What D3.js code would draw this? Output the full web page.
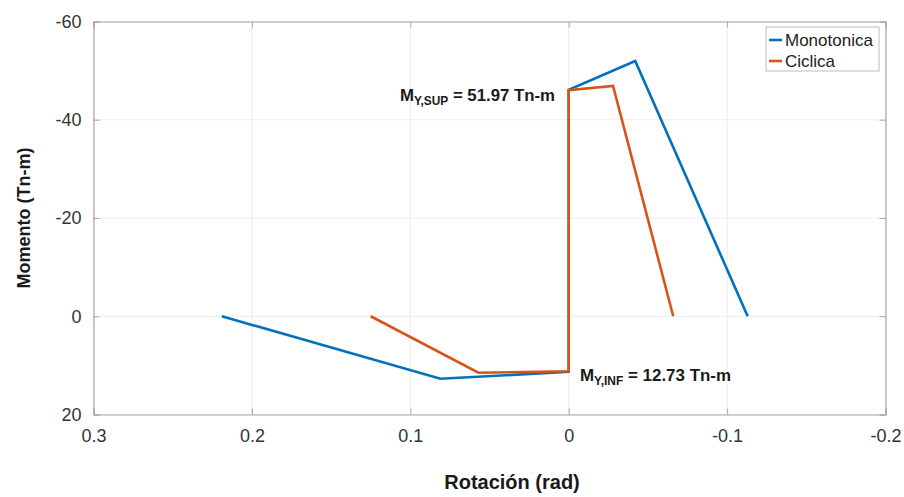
<!DOCTYPE html>
<html><head><meta charset="utf-8">
<script src="https://cdn.jsdelivr.net/npm/d3@7"></script>
<style>
body{margin:0;background:#fff;}
text{font-family:"Liberation Sans",Arial,sans-serif;}
</style></head>
<body><svg id="c" width="904" height="497"></svg>
<script>
const monoX = [0.219, 0.081, 0.0, 0.0, -0.042, -0.113];
const monoY = [0, 12.73, 11.3, -46.1, -51.97, 0];
const cicX = [0.125, 0.057, 0.0, 0.0, -0.028, -0.066];
const cicY = [0, 11.5, 11.2, -46.0, -46.9, 0];
const xTicks = [0.3, 0.2, 0.1, 0, -0.1, -0.2];
const xTickLabels = ["0.3", "0.2", "0.1", "0", "-0.1", "-0.2"];
const yTicks = [-60, -40, -20, 0, 20];
const yTickLabels = ["-60", "-40", "-20", "0", "20"];
const seriesNames = ["Monotonica", "Ciclica"];
const colors = ["#0072BD", "#D95319"];

const svg = d3.select("#c");
const x = d3.scaleLinear().domain([0.3, -0.2]).range([93.5, 885.5]);
const y = d3.scaleLinear().domain([-60, 20]).range([21.5, 414.5]);

// grid
svg.append("g").selectAll("line").data(xTicks).join("line")
  .attr("x1", d => x(d)).attr("x2", d => x(d)).attr("y1", y(-60)).attr("y2", y(20))
  .attr("stroke", "#ececec").attr("stroke-width", 1);
svg.append("g").selectAll("line").data(yTicks).join("line")
  .attr("y1", d => y(d)).attr("y2", d => y(d)).attr("x1", x(0.3)).attr("x2", x(-0.2))
  .attr("stroke", "#ececec").attr("stroke-width", 1);

// axes
const axisCol = "#a8a8a8";
const xa = svg.append("g").attr("transform", `translate(0,${y(20)})`)
  .call(d3.axisBottom(x).tickValues(xTicks).tickSize(-6).tickPadding(15)
    .tickFormat((d, i) => xTickLabels[i]));
const xt = svg.append("g").attr("transform", `translate(0,${y(-60)})`)
  .call(d3.axisTop(x).tickValues(xTicks).tickSize(-6).tickFormat(""));
const ya = svg.append("g").attr("transform", `translate(${x(0.3)},0)`)
  .call(d3.axisLeft(y).tickValues(yTicks).tickSize(-6).tickPadding(12)
    .tickFormat((d, i) => yTickLabels[i]));
const yr = svg.append("g").attr("transform", `translate(${x(-0.2)},0)`)
  .call(d3.axisRight(y).tickValues(yTicks).tickSize(-6).tickFormat(""));
[xa, xt, ya, yr].forEach(g => {
  g.select(".domain").attr("stroke", axisCol).attr("stroke-width", 1.2);
  g.selectAll(".tick line").attr("stroke", axisCol);
  g.selectAll(".tick text").attr("fill", "#333").attr("font-size", 18)
    .attr("font-family", "'Liberation Sans',Arial,sans-serif");
});

// lines
const line = d3.line().x(d => x(d[0])).y(d => y(d[1]));
const monoData = monoX.map((v, i) => [v, monoY[i]]);
const cicData = cicX.map((v, i) => [v, cicY[i]]);
[monoData, cicData].forEach((dat, i) => {
  svg.append("path").datum(dat).attr("d", line)
    .attr("fill", "none").attr("stroke", colors[i]).attr("stroke-width", 2.6)
    .attr("stroke-linejoin", "miter");
});

// annotations
function annot(tx, ty, sub, rest, len) {
  const t = svg.append("text").attr("x", tx).attr("y", ty)
    .attr("font-weight", "bold").attr("font-size", 17).attr("fill", "#1a1a1a")
    .attr("textLength", len).attr("lengthAdjust", "spacingAndGlyphs");
  t.append("tspan").text("M");
  t.append("tspan").attr("font-size", 12).attr("dy", 4).text(sub);
  t.append("tspan").attr("dy", -4).text(rest);
}
annot(400, 101, "Y,SUP", " = 51.97 Tn-m", 155);
annot(580, 381, "Y,INF", " = 12.73 Tn-m", 151);

// legend
const lg = svg.append("g");
lg.append("rect").attr("x", 766).attr("y", 27).attr("width", 113).attr("height", 44)
  .attr("fill", "#fff").attr("stroke", "#bcbcbc").attr("stroke-width", 1);
seriesNames.forEach((n, i) => {
  const yy = 40 + i * 21;
  lg.append("line").attr("x1", 769).attr("x2", 782).attr("y1", yy).attr("y2", yy)
    .attr("stroke", colors[i]).attr("stroke-width", 2.6);
  lg.append("text").attr("x", 785).attr("y", yy + 6).attr("font-size", 17)
    .attr("fill", "#222").text(n);
});

// axis titles
svg.append("text").attr("x", 512).attr("y", 489).attr("text-anchor", "middle")
  .attr("font-weight", "bold").attr("font-size", 20).attr("fill", "#1a1a1a").text("Rotación (rad)");
svg.append("text").attr("transform", "translate(30,218) rotate(-90)").attr("text-anchor", "middle")
  .attr("font-weight", "bold").attr("font-size", 18).attr("fill", "#1a1a1a").text("Momento (Tn-m)");
</script></body></html>
